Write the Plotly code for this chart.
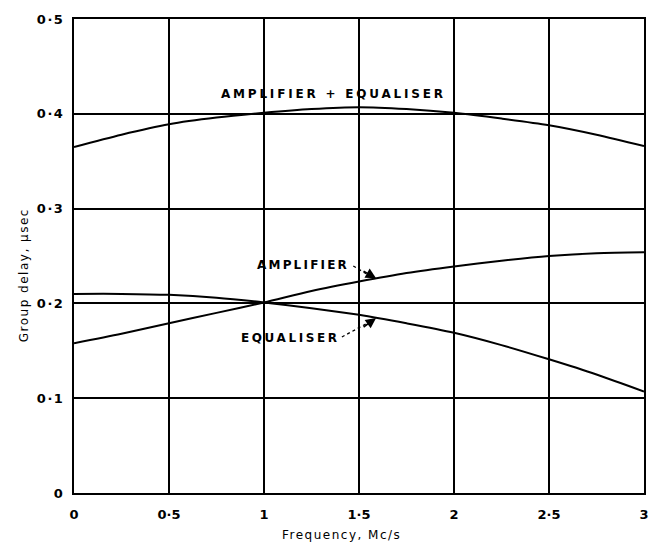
import plotly.graph_objects as go

# Frequency points, Mc/s
freq = [0, 0.25, 0.5, 0.75, 1.0, 1.25, 1.5, 1.75, 2.0, 2.25, 2.5, 2.75, 3.0]

# Group delay, microseconds
amplifier = [0.158, 0.168, 0.179, 0.190, 0.201, 0.213, 0.223, 0.232, 0.239, 0.245, 0.250, 0.253, 0.254]
equaliser = [0.210, 0.210, 0.209, 0.206, 0.201, 0.195, 0.188, 0.179, 0.169, 0.156, 0.141, 0.125, 0.107]
combined = [0.365, 0.378, 0.389, 0.396, 0.401, 0.405, 0.407, 0.405, 0.401, 0.395, 0.388, 0.378, 0.366]

x_ticks = [0, 0.5, 1, 1.5, 2, 2.5, 3]
x_tick_text = ["0", "0·5", "1", "1·5", "2", "2·5", "3"]
y_ticks = [0, 0.1, 0.2, 0.3, 0.4, 0.5]
y_tick_text = ["0", "0·1", "0·2", "0·3", "0·4", "0·5"]

FONT = "DejaVu Sans"
INK = "black"


def spaced(text, px, bold=False):
    inner = f"<b>{text}</b>" if bold else text
    return f'<span style="letter-spacing:{px}px">{inner}</span>'


fig = go.Figure()
for series in (amplifier, equaliser, combined):
    fig.add_trace(go.Scatter(
        x=freq, y=series, mode="lines",
        line=dict(color=INK, width=2, shape="spline", smoothing=0.8),
        showlegend=False, hoverinfo="skip",
    ))

# dashed leader lines from the curve labels towards their curves
leaders = [((1.47, 0.2395), (1.57, 0.2275)), ((1.41, 0.1646), (1.57, 0.182))]
for (x0, y0), (x1, y1) in leaders:
    fig.add_trace(go.Scatter(
        x=[x0, x1], y=[y0, y1], mode="lines",
        line=dict(color=INK, width=1.3, dash="3px,3px"),
        showlegend=False, hoverinfo="skip",
    ))

label_font = dict(family=FONT, size=12, color=INK)
annotations = [
    dict(x=1.367, y=0.421, text=spaced("AMPLIFIER + EQUALISER", 2.8, True), showarrow=False,
         font=label_font),
    dict(x=1.46, y=0.2405, text=spaced("AMPLIFIER", 2.2, True), showarrow=False, xanchor="right",
         font=label_font),
    dict(x=1.41, y=0.1640, text=spaced("EQUALISER", 2.6, True), showarrow=False, xanchor="right",
         font=label_font),
    # arrow heads
    dict(x=1.59, y=0.2265, ax=-14, ay=-8, text="", showarrow=True,
         arrowhead=2, arrowsize=1.3, arrowwidth=1.6, arrowcolor=INK),
    dict(x=1.59, y=0.1845, ax=-14, ay=10, text="", showarrow=True,
         arrowhead=2, arrowsize=1.3, arrowwidth=1.6, arrowcolor=INK),
    # axis titles
    dict(xref="paper", yref="paper", x=-0.103, y=0.46, text=spaced("Group delay, μsec", 1.5),
         textangle=-90, showarrow=False, font=dict(family=FONT, size=12, color=INK)),
    dict(xref="paper", yref="paper", x=0.47, y=-0.088, yanchor="middle",
         text=spaced("Frequency, Mc/s", 1.5),
         showarrow=False, font=dict(family=FONT, size=12, color=INK)),
]

axis_common = dict(
    showgrid=True, gridcolor=INK, gridwidth=1.5,
    showline=True, linecolor=INK, linewidth=2, mirror=True,
    zeroline=False, ticks="",
    tickfont=dict(family=FONT, size=13, color=INK),
    ticklabeloverflow="allow",
)

fig.update_layout(
    width=651, height=545,
    margin=dict(l=74, r=2, t=19, b=52),
    paper_bgcolor="white", plot_bgcolor="white",
    annotations=annotations,
    xaxis=dict(range=[0, 3], tickvals=x_ticks,
               ticktext=[f"<b>{t}</b>" for t in x_tick_text],
               ticklabelstandoff=8, **axis_common),
    yaxis=dict(range=[0, 0.5], tickvals=y_ticks,
               ticktext=[f"<b>{spaced(t, 1.5)}</b>" for t in y_tick_text],
               ticklabelstandoff=5, **axis_common),
)

fig.write_html("out.html")
